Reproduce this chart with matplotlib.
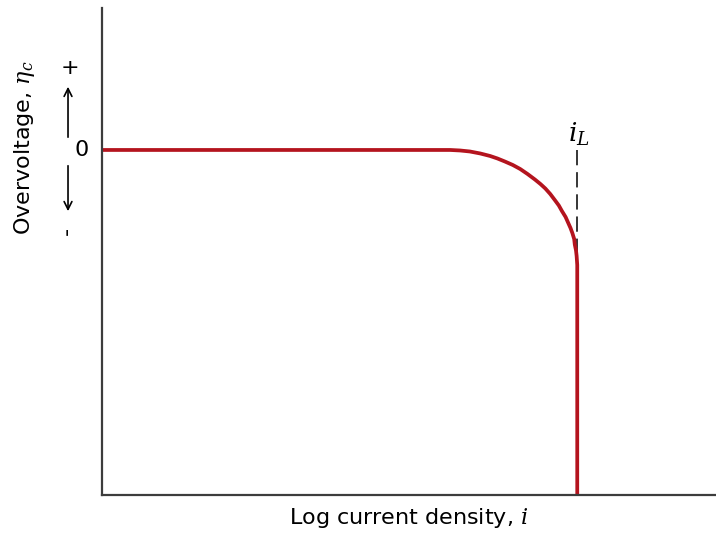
import matplotlib
matplotlib.use("Agg")
import matplotlib.pyplot as plt

# curve (x: log current density, y: overvoltage)
log_i = [0.0, 5.67, 5.83, 5.99, 6.16, 6.32, 6.44, 6.56, 6.69, 6.81, 6.93, 7.05, 7.14,
         7.22, 7.30, 7.38, 7.44, 7.49, 7.55, 7.59, 7.63, 7.66, 7.69, 7.70, 7.72, 7.73, 7.74, 7.74]
eta = [0.0, 0.0, -0.01, -0.03, -0.07, -0.12, -0.17, -0.23, -0.30, -0.38, -0.48, -0.59, -0.68,
       -0.77, -0.88, -1.01, -1.11, -1.22, -1.34, -1.45, -1.56, -1.66, -1.78, -1.89, -2.01,
       -2.12, -2.30, -6.9]
i_limit = 7.74
eta_limit = -2.30

plt.rcParams['font.family'] = ['DejaVu Sans']
plt.rcParams['mathtext.fontset'] = 'dejavuserif'

fig = plt.figure(figsize=(7.16, 5.35), dpi=100)
ax = fig.add_axes([0.1425, 0.0748, 0.8575, 0.9103])

ax.plot([i_limit, i_limit], [0, eta_limit], color='black', lw=1.1, ls=(0, (10, 4.5)), zorder=1)
ax.plot(log_i, eta, color='#b4141e', lw=2.7, solid_capstyle='butt',
        solid_joinstyle='round', zorder=2)
ax.text(i_limit + 0.02, 0.04, r'$i_L$', fontsize=19, ha='center', va='bottom')

ax.set_xlim(0, 10)
ax.set_ylim(-6.9, 2.84)
for s in ['top', 'right']:
    ax.spines[s].set_visible(False)
for s in ['left', 'bottom']:
    ax.spines[s].set_color('#3c3c3c')
    ax.spines[s].set_linewidth(1.6)
ax.set_xticks([])
ax.set_yticks([])

ax.set_xlabel(r'Log current density, $i$', fontsize=16, labelpad=8)

# y-axis label and direction markers
ax.text(-1.26, 0.04, r'Overvoltage, $\eta_c$', fontsize=16, rotation=90,
        ha='center', va='center', clip_on=False)
ax.text(-0.33, 0.0, '0', fontsize=16, ha='center', va='center', clip_on=False)
ax.text(-0.52, 1.64, '+', fontsize=16, ha='center', va='center', clip_on=False)
ax.text(-0.57, -1.62, '-', fontsize=16, rotation=90, ha='center', va='center', clip_on=False)
ax.annotate('', xy=(-0.554, 1.32), xytext=(-0.554, 0.2), annotation_clip=False,
            arrowprops=dict(arrowstyle='->', lw=1.2, color='black', mutation_scale=14))
ax.annotate('', xy=(-0.554, -1.28), xytext=(-0.554, -0.26), annotation_clip=False,
            arrowprops=dict(arrowstyle='->', lw=1.2, color='black', mutation_scale=14))

fig.savefig('out.png', dpi=100)
